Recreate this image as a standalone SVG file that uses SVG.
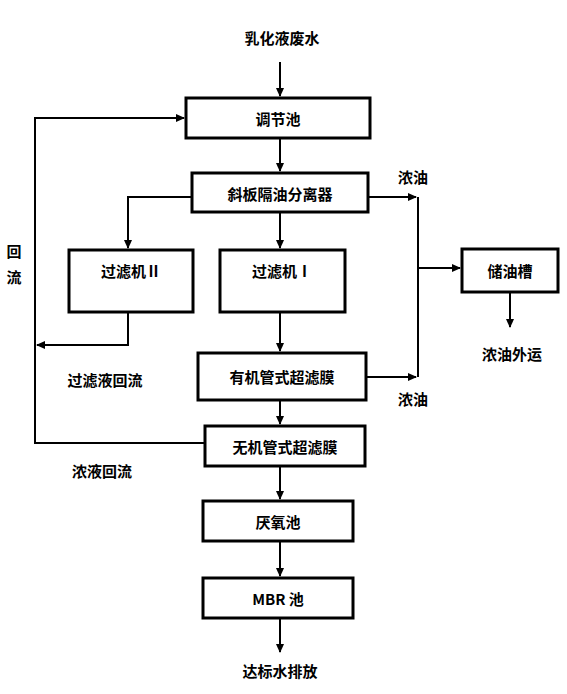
<svg xmlns="http://www.w3.org/2000/svg" width="567" height="694" viewBox="0 0 567 694">
<defs>
<marker id="ah" markerWidth="10" markerHeight="10" refX="8" refY="5" orient="auto" markerUnits="userSpaceOnUse">
<path d="M0,1 L9,5 L0,9 Z" fill="#000"/>
</marker>
<style>
.box{fill:#fff;stroke:#000;stroke-width:3}
.t{font-family:"Noto Sans CJK SC","Liberation Sans",sans-serif;font-weight:bold;font-size:15px;fill:#000;text-anchor:middle;dominant-baseline:central}
.c{fill:none;stroke:#000;stroke-width:2}
</style>
</defs>
<rect width="567" height="694" fill="#fff"/>
<g id="connectors">
<path class="c" d="M280,62 V96" marker-end="url(#ah)"/>
<path class="c" d="M280,139 V171" marker-end="url(#ah)"/>
<path class="c" d="M192,197 H128 V248" marker-end="url(#ah)"/>
<path class="c" d="M280,213 V248" marker-end="url(#ah)"/>
<path class="c" d="M368,197 H416" marker-end="url(#ah)"/>
<path class="c" d="M418,197 V377"/>
<path class="c" d="M418,268 H460" marker-end="url(#ah)"/>
<path class="c" d="M510,292 V327" marker-end="url(#ah)"/>
<path class="c" d="M128,313 V345 H37" marker-end="url(#ah)"/>
<path class="c" d="M280,313 V351" marker-end="url(#ah)"/>
<path class="c" d="M366,377 H416" marker-end="url(#ah)"/>
<path class="c" d="M280,401 V424" marker-end="url(#ah)"/>
<path class="c" d="M205,443 H35 V118 H184" marker-end="url(#ah)"/>
<path class="c" d="M280,467 V499" marker-end="url(#ah)"/>
<path class="c" d="M280,542 V576" marker-end="url(#ah)"/>
<path class="c" d="M280,619 V652" marker-end="url(#ah)"/>
</g>
<g id="labels">
<text class="t" x="282" y="37">乳化液废水</text>
<text class="t" x="413" y="176">浓油</text>
<text class="t" x="413" y="398">浓油</text>
<text class="t" x="512" y="353">浓油外运</text>
<text class="t" x="14" y="250">回</text>
<text class="t" x="14" y="276">流</text>
<text class="t" x="105" y="379">过滤液回流</text>
<text class="t" x="102" y="470">浓液回流</text>
<text class="t" x="280" y="670">达标水排放</text>
</g>
<g id="n1"><rect class="box" x="186" y="98" width="184" height="40"/><text class="t" x="278" y="118">调节池</text></g>
<g id="n2"><rect class="box" x="192" y="173" width="176" height="39"/><text class="t" x="280" y="193">斜板隔油分离器</text></g>
<g id="n3"><rect class="box" x="69" y="250" width="124" height="62"/><text class="t" x="131" y="270">过滤机Ⅱ</text></g>
<g id="n4"><rect class="box" x="220" y="250" width="125" height="62"/><text class="t" x="282" y="270">过滤机Ⅰ</text></g>
<g id="n5"><rect class="box" x="462" y="249" width="96" height="43"/><text class="t" x="510" y="270">储油槽</text></g>
<g id="n6"><rect class="box" x="198" y="353" width="168" height="47"/><text class="t" x="282" y="376">有机管式超滤膜</text></g>
<g id="n7"><rect class="box" x="205" y="426" width="160" height="40"/><text class="t" x="285" y="446">无机管式超滤膜</text></g>
<g id="n8"><rect class="box" x="203" y="501" width="150" height="40"/><text class="t" x="278" y="521">厌氧池</text></g>
<g id="n9"><rect class="box" x="203" y="578" width="150" height="40"/><text class="t" x="278" y="598">MBR 池</text></g>
</svg>
